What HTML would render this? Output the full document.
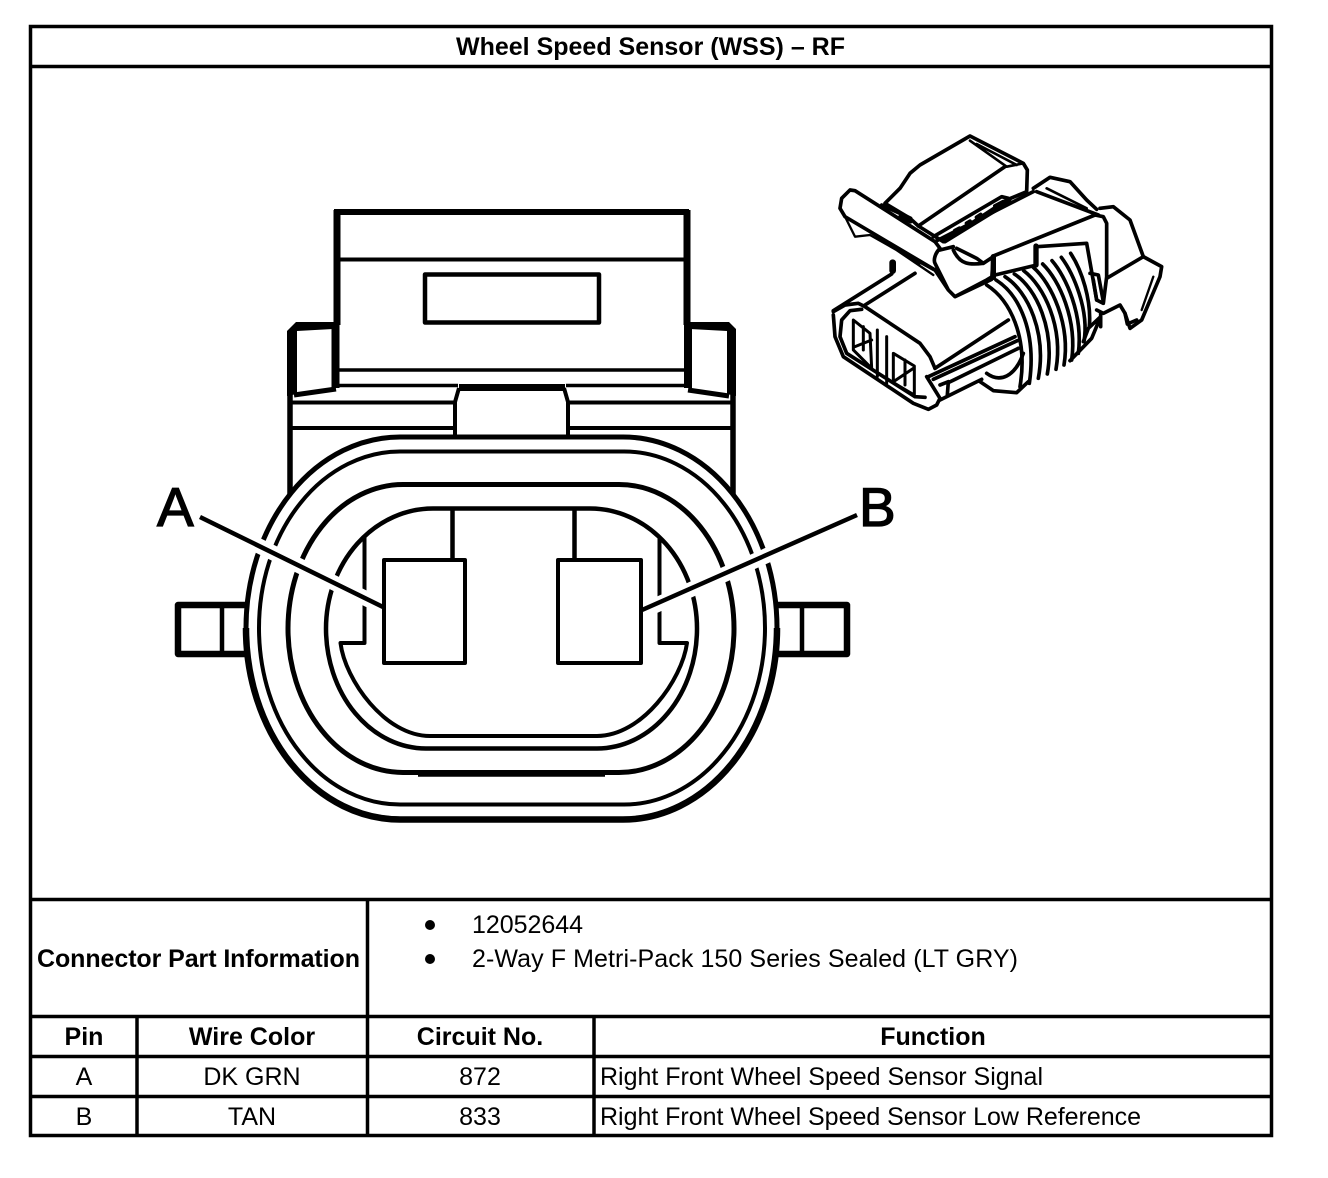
<!DOCTYPE html>
<html><head><meta charset="utf-8"><style>
html,body{margin:0;padding:0;background:#fff}
svg{display:block}
text{font-family:"Liberation Sans",Arial,sans-serif;fill:#000;font-size:25px}
.b{font-weight:bold}
.m{text-anchor:middle}
</style></head><body>
<svg width="1328" height="1178" viewBox="0 0 1328 1178" xmlns="http://www.w3.org/2000/svg">
<rect width="1328" height="1178" fill="#fff"/>
<!-- table -->
<g stroke="#000" stroke-width="3.5" fill="none">
<rect x="30.5" y="26.5" width="1241" height="1109"/>
<path d="M30 66.5H1272M30 899.5H1272M30 1016.5H1272M30 1056.5H1272M30 1096.5H1272M367.500 899V1136M137 1016V1136M594 1016V1136"/>
</g>
<text class="b" x="456" y="55" textLength="389" lengthAdjust="spacing">Wheel Speed Sensor (WSS) – RF</text>
<text class="b" x="37" y="967" textLength="323" lengthAdjust="spacing">Connector Part Information</text>
<circle cx="430" cy="925" r="5" fill="#000"/><circle cx="430" cy="959" r="5" fill="#000"/>
<text x="472" y="933" textLength="111" lengthAdjust="spacing">12052644</text>
<text x="472" y="967" textLength="546" lengthAdjust="spacing">2-Way F Metri-Pack 150 Series Sealed (LT GRY)</text>
<text class="b m" x="84" y="1045">Pin</text>
<text class="b m" x="252" y="1045">Wire Color</text>
<text class="b m" x="480" y="1045">Circuit No.</text>
<text class="b m" x="933" y="1045">Function</text>
<text class="m" x="84" y="1085">A</text>
<text class="m" x="252" y="1085">DK GRN</text>
<text class="m" x="480" y="1085">872</text>
<text x="600" y="1085" textLength="443" lengthAdjust="spacing">Right Front Wheel Speed Sensor Signal</text>
<text class="m" x="84" y="1125">B</text>
<text class="m" x="252" y="1125">TAN</text>
<text class="m" x="480" y="1125">833</text>
<text x="600" y="1125" textLength="541" lengthAdjust="spacing">Right Front Wheel Speed Sensor Low Reference</text>

<!-- main connector -->
<g stroke="#000" fill="none" stroke-linejoin="round">
<path stroke-width="6" d="M334 212H689"/>
<path stroke-width="7" d="M337 210V325"/>
<path stroke-width="8" d="M335.500 322V388"/>
<path stroke-width="7" d="M687 210V325"/>
<path stroke-width="8" d="M688 322V388"/>
<path stroke-width="4" d="M337 259.500H687"/>
<rect stroke-width="4.500" x="425" y="274.500" width="174" height="48"/>
<path stroke-width="3.500" d="M338 370H686M338 385.500H458M566 385.500H686"/>
<!-- wings -->
<polygon stroke="none" fill="#000" points="296,322 333,322 333,329 297,331 297,394 287,396 287,331"/>
<polygon stroke="none" fill="#000" points="690,322 729,322 736,329 736,396 727,394 727,331 690,329"/>
<path stroke-width="5" d="M294 395L336 389"/>
<path stroke-width="5" d="M729 396L688 390"/>
<path stroke-width="5.500" d="M290 392V499M733 392V499"/>
<path stroke-width="7" d="M459 387.500H565"/>
<path stroke-width="4" d="M459 388L455 402V437M564 388L568 402V437"/>
<path stroke-width="4" d="M292 402.500H455M568 402.500H732M292 428H455M568 428H732"/>
<path stroke-width="4" d="M422.500 437V451M601 437V451M422.500 805V819M601 805V819"/>

<!-- side tabs -->
<path stroke-width="6.500" d="M246 605H178V654H246"/>
<path stroke-width="4.500" d="M222 605V654"/>
<path stroke-width="6.500" d="M777 605H847V654H777"/>
<path stroke-width="4.500" d="M802 605V654"/>

<!-- ovals -->
<path stroke-width="5" fill="#fff" d="M400 437H623A154 191 0 0 1 623 819H400A154 191 0 0 1 400 437Z"/>
<path stroke-width="6.500" d="M246 628A154 191 0 0 0 400 819.500H623A154 191 0 0 0 777 628"/>
<path stroke-width="4" d="M400 451.500H624A141 176.500 0 0 1 624 804.500H400A141 176.500 0 0 1 400 451.500Z"/>
<path stroke-width="5" d="M403 484.500H619A115 144 0 0 1 619 772.500H403A115 144 0 0 1 403 484.500Z"/>
<path stroke-width="6.500" d="M418 773.500H605"/>
<path stroke-width="4.500" d="M433 508.500H590A107 120 0 0 1 697 628.500A100 120 0 0 1 597 748.500H426A100 120 0 0 1 326 628.500A107 120 0 0 1 433 508.500Z"/>
<path stroke-width="4" d="M364.500 537V643H340.500C345 680 385 736 430 736H597C642 736 682 680 687 643H659.500V537"/>
<path stroke-width="4.500" d="M452.500 508V560M574.500 508V560"/>
<path d="M200 517L375 603M857 515L652 607" stroke="#fff" stroke-width="15"/>
<rect stroke-width="4" x="384" y="560" width="81" height="103" fill="#fff"/>
<rect stroke-width="4" x="558" y="560" width="83" height="103" fill="#fff"/>
<path stroke-width="4.500" d="M200 517L383 607M857 515L642 610"/>
</g>
<text x="157" y="526" style="font-size:55px;stroke:#000;stroke-width:1.3px">A</text>
<text x="859" y="526" style="font-size:55px;stroke:#000;stroke-width:1.3px">B</text>

<!-- perspective connector -->
<g transform="translate(820 120) scale(.33333)" stroke="#000" stroke-width="11" fill="none" stroke-linejoin="round" stroke-linecap="round">
<!-- rear ring -->
<path d="M640 205L690 172L750 185L800 240L830 268"/>
<path d="M680 205L800 265" stroke-width="8"/>
<!-- cap -->
<path d="M840 265L880 260L930 300L970 410L860 475"/>
<path d="M970 410L1025 440L1020 470L965 600L930 625L915 580L900 555L850 580L830 570"/>
<path d="M1000 470L965 570" stroke-width="7"/>
<path d="M915 580L922 612L950 600"/>
<!-- upper latch -->
<path fill="#fff" d="M195 250L240 205L270 160L300 135L450 48L610 130L622 150L620 215L560 240L370 365L295 318L270 295Z"/>
<path d="M450 62L560 140L610 130M470 72L590 135" stroke-width="8"/>
<path d="M555 140L295 318"/>
<path d="M185 255L272 295V305L240 290"/>
<path d="M340 350L545 230L565 235L570 245L375 365"/>
<path stroke-width="12" d="M372 356L385 350M405 332L418 325M440 310L450 304M470 292L482 284M525 258L550 245"/>

<!-- nose rails, top -->
<path d="M40 572L215 462M135 555L285 460"/>
<path stroke-width="20" d="M218 428V452"/>
<path d="M345 745L565 600M325 770L585 650M340 778L592 662M360 840L485 778M385 788L595 685"/>
<!-- coils -->
<path fill="#fff" stroke="none" d="M505 490L780 395L830 520L790 690L620 810L590 815L610 700L590 620Z"/>
<path d="M500 495C570 540 625 650 600 800"/>
<path d="M528 480C600 525 650 640 628 790"/>
<path d="M555 470C625 515 680 640 655 775"/>
<path d="M583 462C650 505 705 630 682 762"/>
<path d="M611 452C672 498 730 620 708 748"/>
<path d="M640 442C695 490 752 615 732 735"/>
<path d="M668 432C718 480 772 600 755 720"/>
<path d="M696 422C738 470 790 585 775 700"/>
<path d="M724 412C760 460 808 570 792 665"/>
<path d="M752 400C785 450 815 540 808 620"/>
<path d="M790 665L805 625L842 590L815 655L750 722M842 580V620"/>

<!-- nose front -->
<path d="M40 585L45 650L70 710L280 850L325 868L350 855L360 835L320 770M40 575L75 555L115 550L135 560L300 670L330 710L345 745"/>
<path d="M125 568L90 572L65 600L60 650L80 700L285 830L315 832"/>
<path stroke-width="9" d="M100 600L150 640L155 745L100 690ZM105 680L155 660M130 620V690"/>
<path stroke-width="9" d="M220 700L283 738L283 825L220 788ZM225 782L280 745M255 720V795"/>
<path stroke-width="9" d="M172 630V770M200 650V790"/>
<path d="M360 795L385 785L382 825"/>
<path d="M480 785L520 812L590 818L625 785M500 760C540 790 585 770 610 700"/>

<!-- lever -->
<path fill="#fff" d="M90 210L105 212L345 365L360 385C345 400 340 420 345 430L385 510L405 530L515 478L520 408L825 285L850 290L860 310L860 470L850 550L830 540L800 370L650 380L650 435L525 465L500 480L405 530L385 510L345 450L75 290L60 265L65 235Z"/>
<path d="M75 290L105 350L150 345L300 430M150 345L340 450M170 350L340 465" stroke-width="7"/>
<path d="M345 365L640 215M360 390L400 380"/>
<path d="M400 390C420 435 450 435 490 430L520 410M410 385L470 415L490 430"/>
<path stroke-width="16" d="M520 410V472M648 378V435"/>
<path d="M650 215L835 285"/>
<path d="M810 460L835 465L850 545M830 540L820 480"/>
</g>
</svg>
</body></html>
